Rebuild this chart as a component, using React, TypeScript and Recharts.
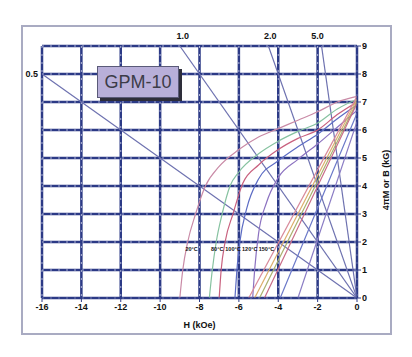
import React from 'react';
import {
  LineChart, Line, XAxis, YAxis, CartesianGrid, ReferenceDot,
} from 'recharts';

// axis ticks
const H_TICKS = [-16, -14, -12, -10, -8, -6, -4, -2, 0];
const B_TICKS = [0, 1, 2, 3, 4, 5, 6, 7, 8, 9];

// permeance (load) lines, from the origin to the frame edge
const LOAD_05 = [{ h: 0, b: 0 }, { h: -16, b: 8 }];
const LOAD_10 = [{ h: 0, b: 0 }, { h: -9, b: 9 }];
const LOAD_20 = [{ h: 0, b: 0 }, { h: -4.5, b: 9 }];
const LOAD_50 = [{ h: 0, b: 0 }, { h: -1.8, b: 9 }];
const LOAD_LABELS = ['0.5', '1.0', '2.0', '5.0'];
const LOAD_LABEL_H = [-16, -8.85, -4.4, -2.0];
const LOAD_LABEL_B = [8, 9, 9, 9];

// intrinsic curves (4piM) per temperature
const J_20 = [
  { h: 0, b: 7.2 }, { h: -1, b: 7.0 }, { h: -2, b: 6.65 }, { h: -3, b: 6.35 },
  { h: -4, b: 6.05 }, { h: -5, b: 5.75 }, { h: -6, b: 5.3 }, { h: -7, b: 4.7 },
  { h: -7.7, b: 4.0 }, { h: -8.2, b: 3.0 }, { h: -8.6, b: 2.0 }, { h: -8.85, b: 1.0 },
  { h: -9.0, b: 0 },
];
const J_80 = [
  { h: 0, b: 7.1 }, { h: -1, b: 6.75 }, { h: -2, b: 6.25 }, { h: -3, b: 5.95 },
  { h: -4, b: 5.6 }, { h: -5, b: 5.15 }, { h: -6, b: 4.5 }, { h: -6.45, b: 4.0 },
  { h: -6.85, b: 3.0 }, { h: -7.15, b: 2.0 }, { h: -7.35, b: 1.0 }, { h: -7.5, b: 0 },
];
const J_100 = [
  { h: 0, b: 7.0 }, { h: -1, b: 6.55 }, { h: -2, b: 6.0 }, { h: -3, b: 5.7 },
  { h: -4, b: 5.3 }, { h: -5, b: 4.75 }, { h: -5.8, b: 4.1 }, { h: -6.3, b: 3.0 },
  { h: -6.7, b: 2.0 }, { h: -6.9, b: 1.0 }, { h: -7.0, b: 0 },
];
const J_120 = [
  { h: 0, b: 6.9 }, { h: -1, b: 6.4 }, { h: -2, b: 5.85 }, { h: -3, b: 5.4 },
  { h: -4, b: 4.9 }, { h: -5, b: 4.25 }, { h: -5.6, b: 3.2 }, { h: -5.95, b: 2.0 },
  { h: -6.1, b: 1.0 }, { h: -6.2, b: 0 },
];
const J_150 = [
  { h: 0, b: 6.7 }, { h: -1, b: 6.1 }, { h: -2, b: 5.5 }, { h: -3, b: 4.95 },
  { h: -4, b: 4.3 }, { h: -4.6, b: 3.4 }, { h: -5.0, b: 2.3 }, { h: -5.2, b: 1.0 },
  { h: -5.3, b: 0 },
];

// normal (B) curves per temperature
const B_20 = [{ h: 0, b: 7.2 }, { h: -5.5, b: 0 }];
const B_80 = [{ h: 0, b: 7.1 }, { h: -5.2, b: 0 }];
const B_100 = [{ h: 0, b: 7.0 }, { h: -4.95, b: 0 }];
const B_120 = [{ h: 0, b: 6.95 }, { h: -4.7, b: 0 }];
const B_150 = [{ h: 0, b: 6.6 }, { h: -3.9, b: 0 }];
const B_150B = [{ h: 0, b: 6.3 }, { h: -3.0, b: 0 }];

const TEMP_LABELS = ['20°C', '80°C', '100°C', '120°C', '150°C'];
const TEMP_LABEL_H = [-8.4, -7.1, -6.3, -5.45, -4.6];
const TEMP_LABEL_B = 1.75;

const NAVY = '#2c3a86';
const LOAD = '#6e72b0';
const font = '"Liberation Sans Narrow", "Liberation Sans", Arial, sans-serif';
const tickStyle = { fontSize: 9, fontWeight: 'bold', fill: '#111', fontFamily: font };

const curves = [
  { data: J_20, color: '#c98aa6', type: 'monotoneX' },
  { data: J_80, color: '#86c2a0', type: 'monotoneX' },
  { data: J_100, color: '#c8607e', type: 'monotoneX' },
  { data: J_120, color: '#5c6cc4', type: 'monotoneX' },
  { data: J_150, color: '#8c72c0', type: 'monotoneX' },
  { data: B_20, color: '#d88a9a', type: 'linear' },
  { data: B_80, color: '#dcae6a', type: 'linear' },
  { data: B_100, color: '#a8b06c', type: 'linear' },
  { data: B_120, color: '#c86a86', type: 'linear' },
  { data: B_150, color: '#6a78c8', type: 'linear' },
  { data: B_150B, color: '#8a7cc4', type: 'linear' },
];

const loads = [LOAD_05, LOAD_10, LOAD_20, LOAD_50];

export default function App() {
  return (
    <div style={{ position: 'absolute', left: 0, top: 0, width: 412, height: 357, background: '#fff' }}>
      <div style={{
        position: 'absolute', left: 21, top: 25, width: 371, height: 310,
        border: '2px solid #a9abc2', boxSizing: 'border-box',
      }} />
      <LineChart
        width={412}
        height={357}
        margin={{ top: 46, right: 25, bottom: 29, left: 42 }}
        style={{ position: 'absolute', left: 0, top: 0 }}
      >
        <CartesianGrid stroke={NAVY} strokeWidth={2.5} />
        <CartesianGrid stroke="#c9cde6" strokeWidth={0.8} strokeDasharray="2 6" />
        <XAxis
          type="number"
          dataKey="h"
          domain={[-16, 0]}
          ticks={H_TICKS}
          allowDataOverflow
          height={30}
          stroke={NAVY}
          tickSize={4}
          tickMargin={2}
          tick={tickStyle}
          label={{
            value: 'H (kOe)', position: 'insideBottom', offset: 0,
            style: { fontSize: 9, fontWeight: 'bold', fill: '#111', fontFamily: font },
          }}
        />
        <YAxis
          type="number"
          orientation="right"
          domain={[0, 9]}
          ticks={B_TICKS}
          allowDataOverflow
          width={30}
          stroke={NAVY}
          tickSize={4}
          tickMargin={1}
          tick={tickStyle}
          label={{
            content: ({ viewBox }: any) => {
              const cx = viewBox.x + viewBox.width - 1;
              const cy = viewBox.y + viewBox.height / 2 + 8;
              return (
                <text x={cx} y={cy} transform={`rotate(-90 ${cx} ${cy})`} textAnchor="middle"
                  dominantBaseline="central" style={tickStyle}>
                  4πM or B (kG)
                </text>
              );
            },
          }}
        />
        {loads.map((d, i) => (
          <Line key={`load-${i}`} data={d} dataKey="b" type="linear" stroke={LOAD}
            strokeWidth={1.2} dot={false} isAnimationActive={false} />
        ))}
        {curves.map((c, i) => (
          <Line key={`curve-${i}`} data={c.data} dataKey="b" type={c.type as any} stroke={c.color}
            strokeWidth={1.2} dot={false} isAnimationActive={false} />
        ))}
        {LOAD_LABELS.map((t, i) => (
          <ReferenceDot key={`ll-${i}`} x={LOAD_LABEL_H[i]} y={LOAD_LABEL_B[i]} r={0}
            label={{ value: t, position: i === 0 ? 'left' : 'top', offset: i === 0 ? 4 : 7, style: tickStyle }} />
        ))}
        {TEMP_LABELS.map((t, i) => (
          <ReferenceDot key={`tl-${i}`} x={TEMP_LABEL_H[i]} y={TEMP_LABEL_B} r={0}
            label={{ value: t, position: 'center', style: { ...tickStyle, fontSize: 5.5 } }} />
        ))}
      </LineChart>
      <div style={{
        position: 'absolute', left: 97, top: 66, width: 82, height: 32,
        background: '#b8afd9', border: '1px solid #5a5a78', boxSizing: 'border-box',
        boxShadow: '3px 3px 0 #2e2e3a', display: 'flex', alignItems: 'center',
        justifyContent: 'center', fontFamily: 'Arial, "Liberation Sans", sans-serif',
        fontSize: 18, color: '#3c3c48',
      }}>
        GPM-10
      </div>
    </div>
  );
}
